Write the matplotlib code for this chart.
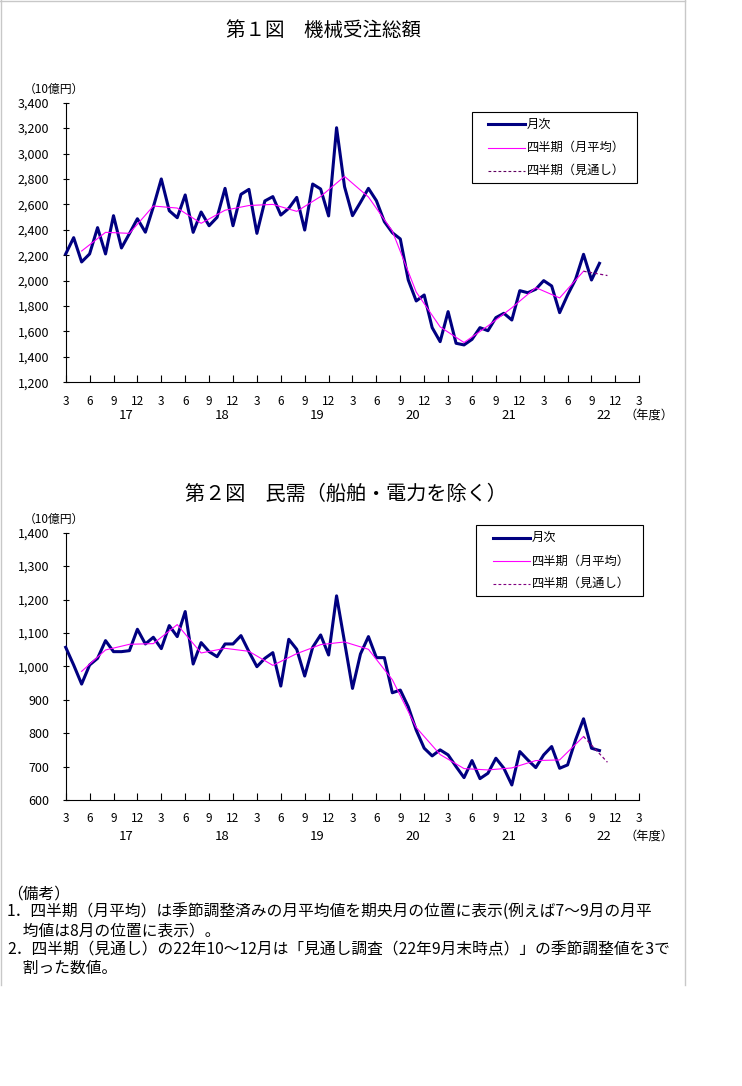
import numpy as np
import matplotlib.pyplot as plt
from matplotlib.lines import Line2D
from matplotlib.patches import Rectangle
import matplotlib.transforms as mtransforms

plt.rcParams['font.family'] = ['Noto Sans CJK JP', 'DejaVu Sans']

W, H = 742, 1086

# ---- data (10億円), monthly index 0 = first tick "3" of FY16 end ----
total_monthly = [2210, 2338, 2147, 2210, 2417, 2210, 2511, 2257, 2370, 2487,
                 2381, 2580, 2800, 2550, 2495, 2674, 2380, 2540, 2432, 2498,
                 2726, 2432, 2679, 2718, 2372, 2627, 2661, 2516, 2569, 2655,
                 2398, 2760, 2721, 2509, 3203, 2739, 2511, 2616, 2726, 2629,
                 2464, 2377, 2328, 2005, 1840, 1887, 1630, 1520, 1756, 1507,
                 1494, 1538, 1630, 1606, 1709, 1743, 1690, 1921, 1905, 1932,
                 2000, 1958, 1748, 1887, 2010, 2207, 2005, 2136]
total_quarter = [2233, 2380, 2372, 2587, 2571, 2451, 2554, 2591, 2600, 2545,
                 2662, 2820, 2658, 2390, 1910, 1636, 1513, 1644, 1786, 1945,
                 1864, 2074]
total_outlook = [2074, 2040]

core_monthly = [1057, 1004, 947, 1004, 1024, 1077, 1044, 1044, 1047, 1111,
                1067, 1087, 1053, 1122, 1089, 1164, 1007, 1071, 1044, 1029,
                1067, 1067, 1092, 1044, 999, 1024, 1041, 941, 1081, 1051,
                971, 1057, 1094, 1034, 1211, 1073, 934, 1037, 1089, 1026,
                1026, 921, 929, 879, 809, 755, 732, 750, 735, 700,
                667, 718, 664, 680, 725, 695, 645, 745, 720, 697,
                735, 760, 695, 705, 780, 843, 755, 748]
core_quarter = [985, 1049, 1066, 1068, 1125, 1040, 1054, 1045, 1003, 1038,
                1065, 1073, 1051, 960, 817, 736, 694, 690, 696, 718,
                720, 790]
core_outlook = [790, 713]

month_labels = ['3', '6', '9', '12'] * 6 + ['3']
year_labels = ['17', '18', '19', '20', '21', '22']


def fx(x):
    return x / W


def fy(y):
    return 1 - y / H


def make_axes(fig, left, top, right, bottom):
    return fig.add_axes([fx(left), fy(bottom), fx(right) - fx(left), fy(top) - fy(bottom)])


def draw_chart(ax, monthly, quarter, outlook, ylo, yhi, ystep, year_y):
    xm = np.arange(len(monthly))
    xq = np.arange(2, 2 + 3 * len(quarter), 3)
    xo = [xq[-1], xq[-1] + 3]
    ax.plot(xm, monthly, color='#000080', lw=2.2, zorder=3, clip_on=False)
    ax.plot(xq, quarter, color='#ff00ff', lw=0.8, zorder=4)
    ax.plot(xo, outlook, color='#800080', lw=0.9, ls=(0, (2.5, 2)), zorder=4)

    ax.set_xlim(0, 72)
    ax.set_ylim(ylo, yhi)
    ax.set_xticks(np.arange(0, 73, 3))
    ax.set_xticklabels(month_labels)
    ax.set_yticks(np.arange(ylo, yhi + 1, ystep))
    ax.set_yticklabels([f'{v:,}' for v in np.arange(ylo, yhi + 1, ystep)])
    ax.tick_params(axis='x', direction='in', length=5, width=0.8, pad=9, labelsize=8.5)
    ax.tick_params(axis='y', direction='inout', length=4, width=0.8, pad=10, labelsize=9)
    for s in ['top', 'right']:
        ax.spines[s].set_visible(False)
    for s in ['left', 'bottom']:
        ax.spines[s].set_linewidth(0.8)

    tr = mtransforms.blended_transform_factory(ax.transData, ax.transAxes)
    for k, lab in enumerate(year_labels):
        ax.text(7.6 + 12 * k, year_y, lab, transform=tr, ha='center', va='center', fontsize=9.5)
    ax.text(73.2, year_y, '（年度）', transform=tr, ha='center', va='center', fontsize=8.8)


def draw_legend(fig, box, rows, lx0, lx1, tx, dash_color):
    x0, y0, x1, y1 = box
    fig.patches.append(Rectangle((fx(x0), fy(y1)), fx(x1) - fx(x0), fy(y0) - fy(y1),
                                 transform=fig.transFigure, fill=False, ec='black', lw=0.8))
    styles = [dict(color='#000080', lw=2.2),
              dict(color='#ff00ff', lw=0.8),
              dict(color=dash_color, lw=0.8, ls=(0, (2.5, 2)))]
    labels = ['月次', '四半期（月平均）', '四半期（見通し）']
    for ry, st, lab in zip(rows, styles, labels):
        fig.lines.append(Line2D([fx(lx0), fx(lx1)], [fy(ry), fy(ry)],
                                transform=fig.transFigure, **st))
        fig.text(fx(tx), fy(ry), lab, ha='left', va='center', fontsize=8.8)


fig = plt.figure(figsize=(W / 100, H / 100), dpi=100)

# page frame
for xs, ys in [([0.5, 0.5], [0, 985]), ([0, 685], [0.5, 0.5]), ([685, 685], [0, 985])]:
    fig.lines.append(Line2D([fx(v) for v in xs], [fy(v) for v in ys],
                            transform=fig.transFigure, color='#c8c8c8', lw=1))

fig.text(fx(323), fy(31), '第１図　機械受注総額', ha='center', va='center', fontsize=14)
fig.text(fx(24), fy(89), '（10億円）', ha='left', va='center', fontsize=8.5)
ax1 = make_axes(fig, 65.7, 102.7, 639.3, 382.3)
draw_chart(ax1, total_monthly, total_quarter, total_outlook, 1200, 3400, 200, -0.117)
draw_legend(fig, (471.7, 112.3, 637.3, 183.3), [124.3, 147.7, 170.7], 488, 525, 527, '#600060')

fig.text(fx(346), fy(494), '第２図　民需（船舶・電力を除く）', ha='center', va='center', fontsize=14.5)
fig.text(fx(24), fy(519), '（10億円）', ha='left', va='center', fontsize=8.5)
ax2 = make_axes(fig, 65.7, 532.7, 639.3, 800)
draw_chart(ax2, core_monthly, core_quarter, core_outlook, 600, 1400, 100, -0.137)
draw_legend(fig, (475.7, 525, 643.3, 596), [537.7, 561, 583.7], 493, 530, 532, '#800080')

notes = ['（備考）',
         '1．四半期（月平均）は季節調整済みの月平均値を期央月の位置に表示(例えば7～9月の月平',
         '　均値は8月の位置に表示）。',
         '2．四半期（見通し）の22年10～12月は「見通し調査（22年9月末時点）」の季節調整値を3で',
         '　割った数値。']
for k, line in enumerate(notes):
    fig.text(fx(7), fy(894 + 18.6 * k), line, ha='left', va='center', fontsize=11.3)

fig.savefig('out.png', dpi=100)
